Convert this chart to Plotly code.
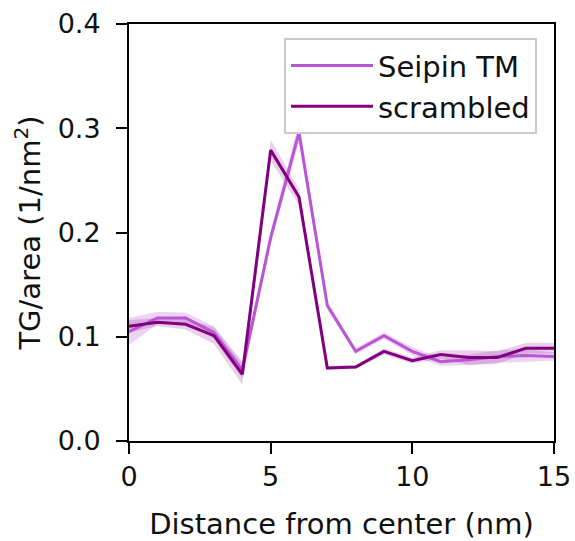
import plotly.graph_objects as go

x = list(range(16))
seipin = [0.105, 0.118, 0.118, 0.104, 0.068, 0.195, 0.296, 0.130, 0.086, 0.101, 0.086, 0.076, 0.078, 0.081, 0.082, 0.081]
seipin_err = [0.013, 0.006, 0.005, 0.006, 0.008, 0.006, 0.010, 0.004, 0.003, 0.003, 0.004, 0.004, 0.005, 0.006, 0.006, 0.004]
scrambled = [0.110, 0.114, 0.112, 0.101, 0.064, 0.279, 0.234, 0.070, 0.071, 0.086, 0.077, 0.083, 0.080, 0.080, 0.089, 0.089]
scrambled_err = [0.006, 0.004, 0.005, 0.008, 0.010, 0.010, 0.008, 0.002, 0.002, 0.003, 0.003, 0.004, 0.007, 0.006, 0.005, 0.005]

c_seipin = "#BA55D3"
c_scr = "#800080"

fig = go.Figure()

def band(y, e, rgba):
    up = [a + b for a, b in zip(y, e)]
    lo = [a - b for a, b in zip(y, e)]
    fig.add_trace(go.Scatter(x=x + x[::-1], y=up + lo[::-1], fill="toself",
                             fillcolor=rgba, line=dict(width=0), mode="lines",
                             hoverinfo="skip", showlegend=False))

band(seipin, seipin_err, "rgba(186,85,211,0.25)")
band(scrambled, scrambled_err, "rgba(128,0,128,0.18)")

fig.add_trace(go.Scatter(x=x, y=seipin, mode="lines", name="Seipin TM", legendgroup="a",
                         line=dict(color=c_seipin, width=3)))
fig.add_trace(go.Scatter(x=x, y=scrambled, mode="lines", name="scrambled", legendgroup="b",
                         line=dict(color=c_scr, width=3)))

tick_font = dict(family="DejaVu Sans", size=27, color="#111111")
title_font = dict(family="DejaVu Sans", size=29, color="#111111")
axis_common = dict(showline=True, linecolor="black", linewidth=2, mirror=True,
                   ticks="outside", ticklen=11, tickwidth=2, tickcolor="black",
                   showgrid=False, zeroline=False, tickfont=tick_font, automargin=False)

fig.update_layout(
    width=575, height=541,
    margin=dict(l=129, r=21, t=24, b=100),
    plot_bgcolor="white", paper_bgcolor="white",
    font=tick_font,
    xaxis=dict(range=[0, 15], tickvals=[0, 5, 10, 15],
               title=dict(text="Distance from center (nm)", font=title_font, standoff=22),
               **axis_common),
    yaxis=dict(range=[0, 0.4], tickvals=[0, 0.1, 0.2, 0.3, 0.4], tickformat=".1f",
               ticklabelstandoff=10,
               title=dict(text="TG/area (1/nm<sup>2</sup>)", font=title_font, standoff=8),
               **axis_common),
    legend=dict(x=0.96, y=0.966, xanchor="right", yanchor="top",
                bgcolor="rgba(255,255,255,0.8)", bordercolor="#cccccc", borderwidth=2,
                font=title_font, itemwidth=82, tracegroupgap=0),
)

fig.write_html("out.html")
